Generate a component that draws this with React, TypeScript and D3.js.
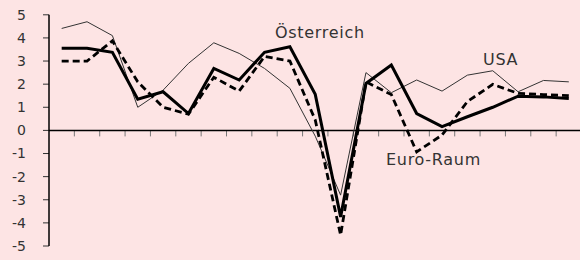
import React from 'react';
import * as d3 from 'd3';

const years = [
  '1998', '1999', '2000', '2001', '2002', '2003', '2004', '2005', '2006', '2007', '2008',
  '2009', '2010', '2011', '2012', '2013', '2014', '2015', '2016', '2017', '2018',
];
const oesterreich = [3.55, 3.55, 3.38, 1.35, 1.67, 0.73, 2.68, 2.18, 3.38, 3.62, 1.56, -3.74, 2.03, 2.83, 0.73, 0.16, 0.59, 1.0, 1.48, 1.45, 1.38];
const euroRaum = [3.0, 3.0, 3.87, 2.1, 1.0, 0.7, 2.3, 1.7, 3.2, 3.0, 0.45, -4.53, 2.1, 1.55, -0.93, -0.2, 1.25, 1.99, 1.6, 1.55, 1.5];
const usa = [4.41, 4.7, 4.1, 1.0, 1.74, 2.9, 3.79, 3.33, 2.68, 1.82, -0.25, -2.8, 2.5, 1.63, 2.18, 1.7, 2.39, 2.58, 1.67, 2.16, 2.1];
const yTicks = [5, 4, 3, 2, 1, 0, -1, -2, -3, -4, -5];

const W = 580;
const H = 260;
const font = '"DejaVu Sans", sans-serif';

export default function App() {
  const x = d3.scaleBand<string>().domain(years).range([49, 581.5]);
  const y = d3.scaleLinear().domain([-5, 5]).range([246, 14.8]);
  const cx = (i: number) => x(years[i])! + x.bandwidth() / 2;

  const line = d3.line<number>()
    .x((_, i) => cx(i))
    .y(d => y(d));

  const x0 = x.range()[0];
  const y0 = y(0);

  return (
    <svg width={W} height={H} style={{ position: 'absolute', left: 0, top: 0 }}>
      <rect width={W} height={H} fill="#fde4e4" />

      {/* x ticks at band boundaries */}
      {years.slice(1).map(yr => (
        <line key={yr} x1={x(yr)} x2={x(yr)} y1={y0} y2={y0 + 6} stroke="#777" strokeWidth={1} />
      ))}
      {/* y axis */}
      {yTicks.map(t => (
        <g key={t}>
          <line x1={x0 - 6} x2={x0} y1={y(t)} y2={y(t)} stroke="#333" strokeWidth={1} />
          <text x={26} y={y(t)} dy="0.35em" textAnchor="end" fontSize={14} fontFamily={font} fill="#333">{t}</text>
        </g>
      ))}
      <line x1={x0} x2={x0} y1={y(5)} y2={y(-5)} stroke="#000" strokeWidth={1.5} />
      <line x1={x0} x2={W} y1={y0} y2={y0} stroke="#000" strokeWidth={1.5} />

      <path d={line(usa)!} fill="none" stroke="#333" strokeWidth={1} />
      <path d={line(euroRaum)!} fill="none" stroke="#000" strokeWidth={2.8} strokeDasharray="7,4" />
      <path d={line(oesterreich)!} fill="none" stroke="#000" strokeWidth={3} strokeLinejoin="miter" />

      <g fontSize={16} fontFamily={font} fill="#333" letterSpacing={0.7}>
        <text x={275} y={38}>Österreich</text>
        <text x={483} y={65}>USA</text>
        <text x={386} y={165}>Euro-Raum</text>
      </g>
    </svg>
  );
}
